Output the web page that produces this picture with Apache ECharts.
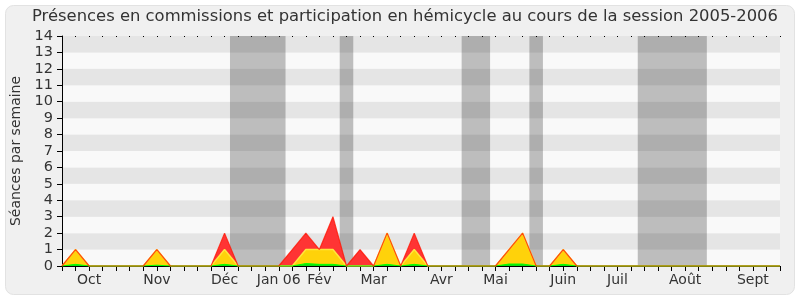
<!DOCTYPE html>
<html><head><meta charset="utf-8">
<script src="https://cdn.jsdelivr.net/npm/echarts@6/dist/echarts.min.js"></script>
<style>html,body{margin:0;padding:0;background:#fff}#c{width:800px;height:300px}</style>
</head><body><div id="c"></div>
<script>
// Weekly values, index 0..53
const titleText = "Présences en commissions et participation en hémicycle au cours de la session 2005-2006";
const yAxisName = "Séances par semaine";
const monthLabels = ["Oct","Nov","Déc","Jan 06","Fév","Mar","Avr","Mai","Juin","Juil","Août","Sept"];
const monthWeek   = [2, 7, 12, 16, 19, 23, 28, 32, 37, 41, 46, 51];
const totalSeances = [0,1,0,0,0,0,0,1,0,0,0,0,2,0,0,0,0,1,2,1,3,0,1,0,2,0,2,0,0,0,0,0,0,1,2,0,0,1,0,0,0,0,0,0,0,0,0,0,0,0,0,0,0,0];
const hemicycle    = [0,1,0,0,0,0,0,1,0,0,0,0,1,0,0,0,0,0,1,1,1,0,0,0,2,0,1,0,0,0,0,0,0,1,2,0,0,1,0,0,0,0,0,0,0,0,0,0,0,0,0,0,0,0];
const interventions= [0,0.1,0,0,0,0,0,0.05,0,0,0,0,0.1,0,0,0,0,0,0.15,0.1,0.1,0,0,0,0.1,0,0.1,0,0,0,0,0,0,0.12,0.12,0,0,0.1,0,0,0,0,0,0,0,0,0,0,0,0,0,0,0,0];
const vacationStart = [12.4, 20.5, 29.5, 34.5, 42.5];
const vacationEnd   = [16.5, 21.5, 31.6, 35.5, 47.6];

const nWeeks = totalSeances.length - 1;
const pts = arr => arr.map((v, i) => [i, v]);
const labelMap = {};
monthWeek.forEach((w, i) => { labelMap[w] = monthLabels[i]; });
const FONT = 'DejaVu Sans';

const chart = echarts.init(document.getElementById('c'), null, {renderer: 'canvas'});
chart.setOption({
  animation: false,
  backgroundColor: '#ffffff',
  textStyle: {fontFamily: FONT},
  graphic: [{
    type: 'rect', z: -10, silent: true,
    shape: {x: 5.5, y: 5.5, width: 789, height: 289, r: 8},
    style: {fill: '#f0f0f0', stroke: '#e2e2e2', lineWidth: 1}
  }],
  title: {
    text: titleText, left: 27, top: 4,
    textStyle: {fontFamily: FONT, fontSize: 16.4, fontWeight: 'normal', color: '#333'}
  },
  grid: {left: 62, right: 20, top: 36, bottom: 34, containLabel: false},
  xAxis: [{
    type: 'value', min: 0, max: nWeeks, interval: 1, position: 'bottom',
    axisLine: {show: true, lineStyle: {color: '#000', width: 1}},
    axisTick: {show: true, length: 5, lineStyle: {color: '#000'}},
    axisLabel: {
      show: true, interval: 0, margin: 7, fontSize: 14, color: '#333', fontFamily: FONT,
      formatter: v => labelMap[v] || ''
    },
    splitLine: {show: false}
  }, {
    type: 'value', min: 0, max: nWeeks, interval: 1, position: 'top',
    axisLine: {show: false},
    axisTick: {show: true, inside: true, length: 1, lineStyle: {color: '#000'}},
    axisLabel: {show: false},
    splitLine: {show: false}
  }],
  yAxis: {
    type: 'value', min: 0, max: 14, interval: 1,
    name: yAxisName, nameLocation: 'middle', nameGap: 38, nameRotate: 90,
    nameTextStyle: {fontFamily: FONT, fontSize: 14, color: '#333'},
    axisLine: {show: true, lineStyle: {color: '#000'}},
    axisTick: {show: true, length: 5, lineStyle: {color: '#000'}},
    axisLabel: {fontSize: 14.5, color: '#333', margin: 9, fontFamily: FONT},
    splitLine: {show: false},
    splitArea: {show: true, areaStyle: {color: ['#f9f9f9', '#e5e5e5']}}
  },
  series: [
    {
      type: 'line', name: 'vacances', data: [], z: 1, silent: true,
      markArea: {
        silent: true,
        itemStyle: {color: 'rgba(0,0,0,0.24)'},
        data: vacationStart.map((s, i) => [{xAxis: s}, {xAxis: vacationEnd[i]}])
      }
    },
    {
      type: 'line', name: 'total', data: pts(totalSeances), z: 2,
      symbol: 'none', lineStyle: {width: 0},
      areaStyle: {color: '#ff3434', opacity: 1}
    },
    {
      type: 'line', name: 'hemicycle', data: pts(hemicycle), z: 3,
      symbol: 'none', lineStyle: {color: '#ffe63c', width: 1.5},
      areaStyle: {color: '#ffd20a', opacity: 1}
    },
    {
      type: 'line', name: 'interventions', data: pts(interventions), z: 4,
      symbol: 'none', lineStyle: {color: '#00ff00', width: 1},
      areaStyle: {color: '#10e010', opacity: 1}
    },
    {
      type: 'line', name: 'totalLine', data: pts(totalSeances), z: 5,
      symbol: 'none', lineStyle: {color: 'rgba(255,20,0,0.75)', width: 1.2}
    }
  ]
});
</script></body></html>
